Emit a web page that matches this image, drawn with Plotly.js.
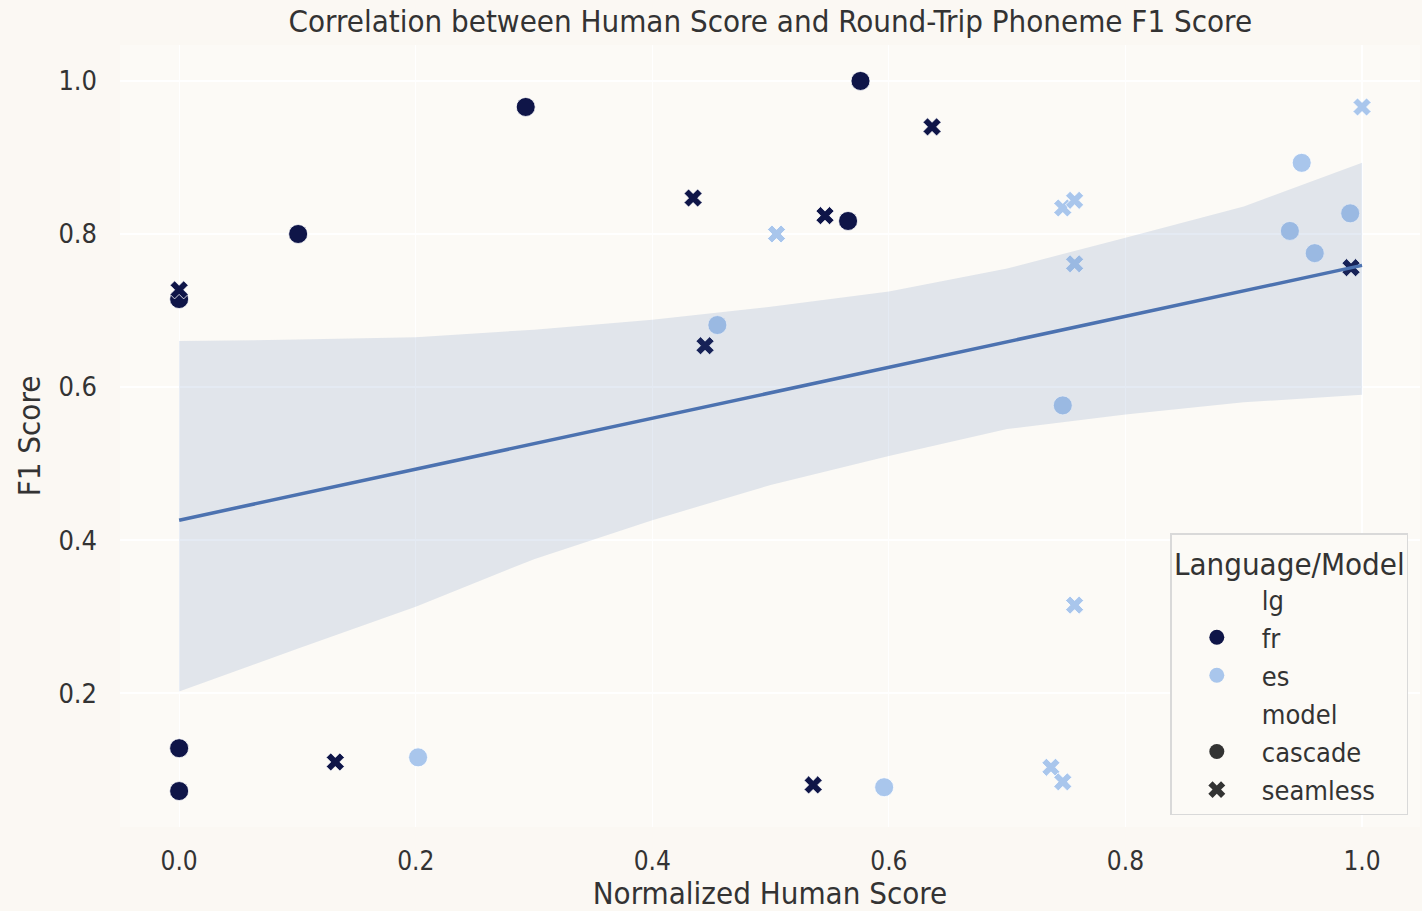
<!DOCTYPE html>
<html>
<head>
<meta charset="utf-8">
<script src="https://cdn.plot.ly/plotly-3.0.1.min.js"></script>
<style>html,body{margin:0;padding:0;background:#fbf8f3;}#chart{width:1422px;height:911px;}</style>
</head>
<body>
<div id="chart"></div>
<script>
// fr / cascade
const frCascadeX = [0.293, 0.576, 0.1006, 0.5655, 0.0, 0.0, 0.0];
const frCascadeY = [0.966, 1.000, 0.800, 0.817, 0.715, 0.128, 0.072];
// fr / seamless
const frSeamlessX = [0.6365, 0.4345, 0.546, 0.4446, 0.0, 0.9907, 0.132, 0.536];
const frSeamlessY = [0.940, 0.847, 0.824, 0.654, 0.727, 0.756, 0.110, 0.080];
// es / cascade
const esCascadeX = [0.949, 0.990, 0.939, 0.960, 0.455, 0.747, 0.202, 0.596];
const esCascadeY = [0.893, 0.827, 0.804, 0.775, 0.681, 0.576, 0.116, 0.077];
// es / seamless
const esSeamlessX = [1.0, 0.747, 0.757, 0.505, 0.757, 0.757, 0.737, 0.747];
const esSeamlessY = [0.966, 0.834, 0.844, 0.800, 0.761, 0.315, 0.103, 0.084];
// regression fit and confidence band
const fitX = [0.0, 1.0];
const fitY = [0.426, 0.759];
const bandX = [0.0, 0.1, 0.2, 0.3, 0.4, 0.5, 0.6, 0.7, 0.8, 0.9, 1.0];
const bandUpper = [0.660, 0.662, 0.665, 0.675, 0.688, 0.705, 0.725, 0.755, 0.795, 0.836, 0.893];
const bandLower = [0.202, 0.258, 0.313, 0.375, 0.426, 0.472, 0.510, 0.545, 0.564, 0.580, 0.590];
const xTicks = [0.0, 0.2, 0.4, 0.6, 0.8, 1.0];
const yTicks = [0.2, 0.4, 0.6, 0.8, 1.0];

const FR = '#0f1548', ES = '#a9c6ec', GREY = '#333333';
const FONT = '"DejaVu Sans Condensed", "DejaVu Sans", sans-serif';
const edge = {color: 'white', width: 0.8};

function pts(x, y, color, symbol, size) {
  return {type: 'scatter', mode: 'markers', x: x, y: y, showlegend: false, hoverinfo: 'skip',
    marker: {color: color, symbol: symbol, size: size, line: edge}};
}
function legendItem(name, color, symbol) {
  return {type: 'scatter', mode: 'markers', x: [null], y: [null], name: name, showlegend: true,
    marker: {color: color, symbol: symbol, size: 15, line: {width: 0}}};
}

const traces = [
  pts(frCascadeX, frCascadeY, FR, 'circle', 19),
  pts(esCascadeX, esCascadeY, ES, 'circle', 19),
  pts(frSeamlessX, frSeamlessY, FR, 'x', 16),
  pts(esSeamlessX, esSeamlessY, ES, 'x', 16),
  {type: 'scatter', mode: 'lines', x: bandX.concat(bandX.slice().reverse()),
   y: bandUpper.concat(bandLower.slice().reverse()), fill: 'toself',
   fillcolor: 'rgba(76,114,176,0.15)', line: {width: 0}, showlegend: false, hoverinfo: 'skip'},
  {type: 'scatter', mode: 'lines', x: fitX, y: fitY, line: {color: '#4c72b0', width: 3.5},
   showlegend: false, hoverinfo: 'skip'},
  legendItem('lg', 'rgba(0,0,0,0)', 'circle'),
  legendItem('fr', FR, 'circle'),
  legendItem('es', ES, 'circle'),
  legendItem('model', 'rgba(0,0,0,0)', 'circle'),
  legendItem('cascade', GREY, 'circle'),
  legendItem('seamless', GREY, 'x')
];

const layout = {
  width: 1422, height: 911,
  paper_bgcolor: '#fbf8f3', plot_bgcolor: '#fcfaf6',
  margin: {l: 120, r: 2, t: 45, b: 84},
  font: {family: FONT, color: '#333333', size: 26},
  title: {text: 'Correlation between Human Score and Round-Trip Phoneme F1 Score',
    font: {family: FONT, size: 31, color: '#333333'}, x: 0.5417, xanchor: 'center', y: 0.977, yanchor: 'middle'},
  xaxis: {range: [-0.05, 1.049], tickvals: xTicks, ticktext: xTicks.map(v => v.toFixed(1)),
    showgrid: true, gridcolor: '#ffffff', gridwidth: 1.2, zeroline: false, showline: false, ticks: '',
    ticklabelstandoff: 16, tickfont: {size: 26, color: '#333333'},
    title: {text: 'Normalized Human Score', font: {size: 31, color: '#333333'}, standoff: 9}},
  yaxis: {range: [0.025, 1.047], tickvals: yTicks, ticktext: yTicks.map(v => v.toFixed(1)),
    showgrid: true, gridcolor: '#ffffff', gridwidth: 1.2, zeroline: false, showline: false, ticks: '',
    ticklabelstandoff: 22, tickfont: {size: 27, color: '#333333'},
    title: {text: 'F1 Score', font: {size: 31, color: '#333333'}, standoff: 8}},
  legend: {x: 0.991, xanchor: 'right', y: 0.015, yanchor: 'bottom',
    bgcolor: '#fcfaf6', bordercolor: '#d9d9d9', borderwidth: 1.5,
    font: {size: 27, color: '#333333'}, itemwidth: 80,
    title: {text: 'Language/Model', side: 'top center', font: {size: 31, color: '#333333'}}},
  showlegend: true
};

Plotly.newPlot('chart', traces, layout, {displayModeBar: false, staticPlot: true});
</script>
</body>
</html>
